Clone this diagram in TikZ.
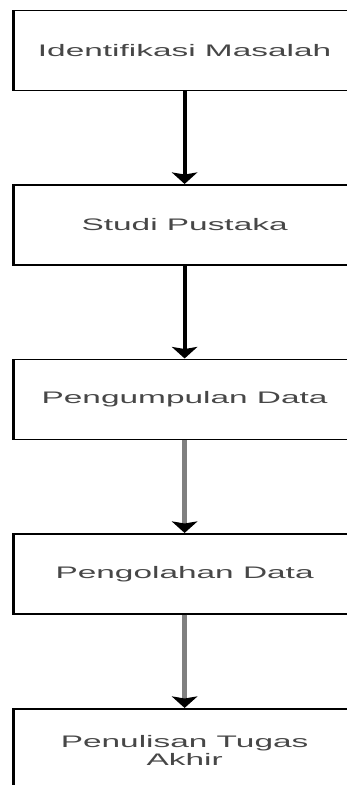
\documentclass[tikz,border=0pt]{standalone}
\usepackage{fontspec}
\setmainfont{Liberation Sans}
\usetikzlibrary{arrows.meta}
\begin{document}
\begin{tikzpicture}[x=1pt,y=-1pt,
  stepbox/.style={draw=black, line width=1.5pt, minimum width=171pt, minimum height=80pt,
    inner sep=0pt, text=black!72, font=\fontsize{16.7}{18}\selectfont, align=center, anchor=north},
  blackflow/.style={draw=black, line width=2pt,
    -{Stealth[length=11.5pt,width=12.5pt,inset=2pt,color=black]}},
  grayflow/.style={draw=black!50, line width=2.6pt,
    -{Stealth[length=11.5pt,width=12.5pt,inset=2pt,color=black]}}
]
\useasboundingbox (0,0) rectangle (347,785);
\begin{scope}[transform canvas={xscale=2}]
  \node[stepbox] (s1) at (92.3,9.5) {Identifikasi Masalah};
  \node[stepbox] (s2) at (92.3,184) {Studi Pustaka};
  \node[stepbox] (s3) at (92.3,358.5) {Pengumpulan Data};
  \node[stepbox] (s4) at (92.3,533) {Pengolahan Data};
  \node[stepbox, minimum height=84pt] (s5) at (92.3,708) {Penulisan Tugas\\Akhir};
  \draw[blackflow] (s1.south) -- (s2.north);
  \draw[blackflow] (s2.south) -- (s3.north);
  \draw[grayflow] (s3.south) -- (s4.north);
  \draw[grayflow] (s4.south) -- (s5.north);
\end{scope}
\end{tikzpicture}
\end{document}
